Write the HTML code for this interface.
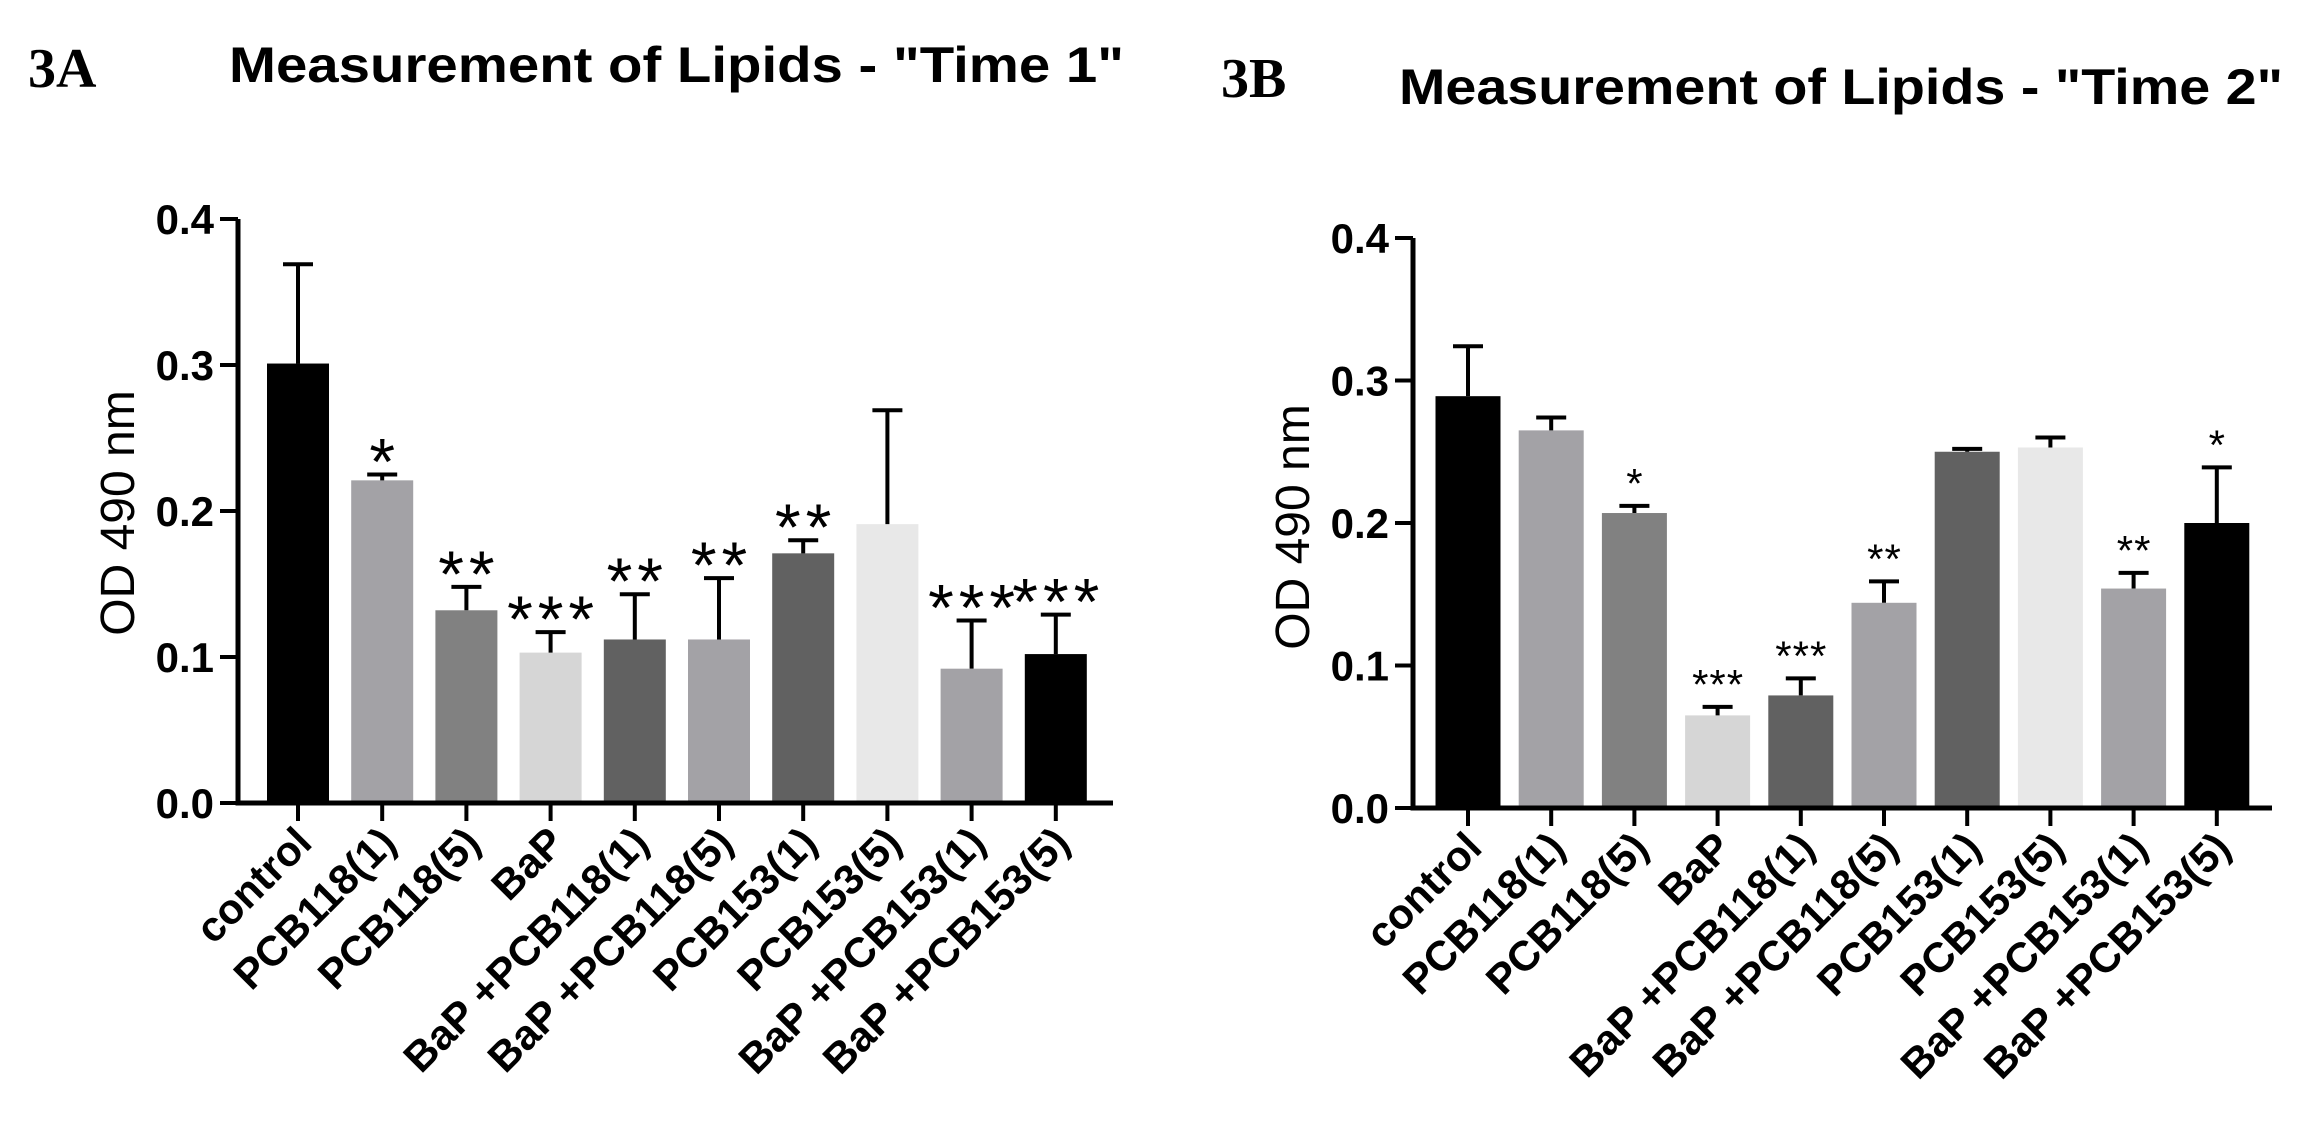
<!DOCTYPE html>
<html><head><meta charset="utf-8"><style>
html,body{margin:0;padding:0;background:#fff;}
svg{display:block;}
.t{font-family:"Liberation Sans Narrow","Liberation Sans",sans-serif;font-weight:bold;}
</style></head><body>
<svg id="fig" width="2315" height="1130" viewBox="0 0 2315 1130" xmlns="http://www.w3.org/2000/svg"></svg>
<script>
const categories = ["control","PCB118(1)","PCB118(5)","BaP","BaP +PCB118(1)","BaP +PCB118(5)","PCB153(1)","PCB153(5)","BaP +PCB153(1)","BaP +PCB153(5)"];
const barColors = ["#000000","#a3a2a6","#818181","#d6d6d6","#616161","#a3a2a6","#616161","#e8e8e8","#a3a2a6","#000000"];
const valuesA = [0.301,0.221,0.132,0.103,0.112,0.112,0.171,0.191,0.092,0.102];
const errTopA = [0.369,0.225,0.148,0.117,0.143,0.154,0.180,0.269,0.125,0.129];
const starsA = ["","*","**","***","**","**","**","","***","***"];
const valuesB = [0.289,0.265,0.207,0.065,0.079,0.144,0.250,0.253,0.154,0.200];
const errTopB = [0.324,0.274,0.212,0.071,0.091,0.159,0.252,0.260,0.165,0.239];
const starsB = ["","","*","***","***","**","","","**","*"];
const yTicks = [0.0,0.1,0.2,0.3,0.4];
const yTickLabels = ["0.0","0.1","0.2","0.3","0.4"];

const NS="http://www.w3.org/2000/svg";
const svg=document.getElementById('fig');
function mk(tag,attrs,parent){const e=document.createElementNS(NS,tag);for(const k in attrs)e.setAttribute(k,attrs[k]);(parent||svg).appendChild(e);return e;}

function panel(cfg){
  const g=mk('g',{});
  
  
  const y=v=>cfg.y0-(v/0.4)*(cfg.y0-cfg.y4);
  const x=i=>cfg.x0+i*cfg.step;
  const L=mk('text',{x:cfg.lx,y:cfg.ly,'font-family':'"Liberation Serif",serif','font-weight':'bold','font-size':56},g);
  L.textContent=cfg.letter;
  
  
  const T=mk('text',{x:cfg.tx,y:cfg.ty,class:'t','font-size':50,textLength:cfg.tw,lengthAdjust:'spacingAndGlyphs'},g);
  T.textContent=cfg.title;
  
  
  categories.forEach((c,i)=>{
    const b=mk('rect',{x:x(i)-cfg.bw/2,y:y(cfg.vals[i]),width:cfg.bw,height:y(0)-y(cfg.vals[i]),fill:barColors[i]},g);
    
    
    const e=mk('path',{d:`M${x(i)} ${y(cfg.vals[i])}V${y(cfg.errs[i])}M${x(i)-15} ${y(cfg.errs[i])}H${x(i)+15}`,stroke:'#000','stroke-width':4,fill:'none'},g);
    
    
    if(cfg.stars[i]){
      const s=mk('text',{x:x(i)+cfg.starSpace/2,y:y(cfg.errs[i])-cfg.starGap,'text-anchor':'middle','font-family':'"Liberation Sans",sans-serif','font-size':cfg.starSize,'letter-spacing':cfg.starSpace},g);
      s.textContent=cfg.stars[i];
      
      
    }
    const tk=mk('line',{x1:x(i),x2:x(i),y1:y(0),y2:y(0)+18,stroke:'#000','stroke-width':4},g);
    
    
    const lb=mk('text',{class:'t','font-size':42,'text-anchor':'end',transform:`translate(${x(i)+16},${y(0)+42}) rotate(-45)`},g);
    lb.textContent=c;
    
    
  });
  const ax=mk('path',{d:`M${cfg.ax} ${y(0.4)}V${y(0)}H${cfg.axEnd}`,stroke:'#000','stroke-width':5,fill:'none'},g);
  
  
  yTicks.forEach((v,i)=>{
    const t=mk('line',{x1:cfg.ax-18,x2:cfg.ax,y1:y(v),y2:y(v),stroke:'#000','stroke-width':4},g);
    
    
    const tl=mk('text',{x:cfg.ax-24,y:y(v)+15,class:'t','font-size':42,'text-anchor':'end'},g);
    tl.textContent=yTickLabels[i];
    
    
  });
  const yt=mk('text',{'font-family':'"Liberation Sans",sans-serif','font-size':48,'text-anchor':'middle',transform:`translate(${cfg.ytx},${cfg.yty}) rotate(-90)`},g);
  yt.textContent='OD 490 nm';
  
  
}
panel({name:'chart-3a',letter:'3A',lx:28,ly:87,title:'Measurement of Lipids - "Time 1"',tx:229,ty:82,tw:895,
  x0:298,step:84.2,bw:62,y0:803,y4:219,ax:238,axEnd:1113,vals:valuesA,errs:errTopA,stars:starsA,starSize:66,starSpace:5,starGap:-10,ytx:134,yty:513});
panel({name:'chart-3b',letter:'3B',lx:1221,ly:97,title:'Measurement of Lipids - "Time 2"',tx:1399,ty:104,tw:884,
  x0:1468,step:83.2,bw:65,y0:808,y4:238,ax:1413,axEnd:2272,vals:valuesB,errs:errTopB,stars:starsB,starSize:42,starSpace:1,starGap:8,ytx:1309,yty:527});
</script>
</body></html>
